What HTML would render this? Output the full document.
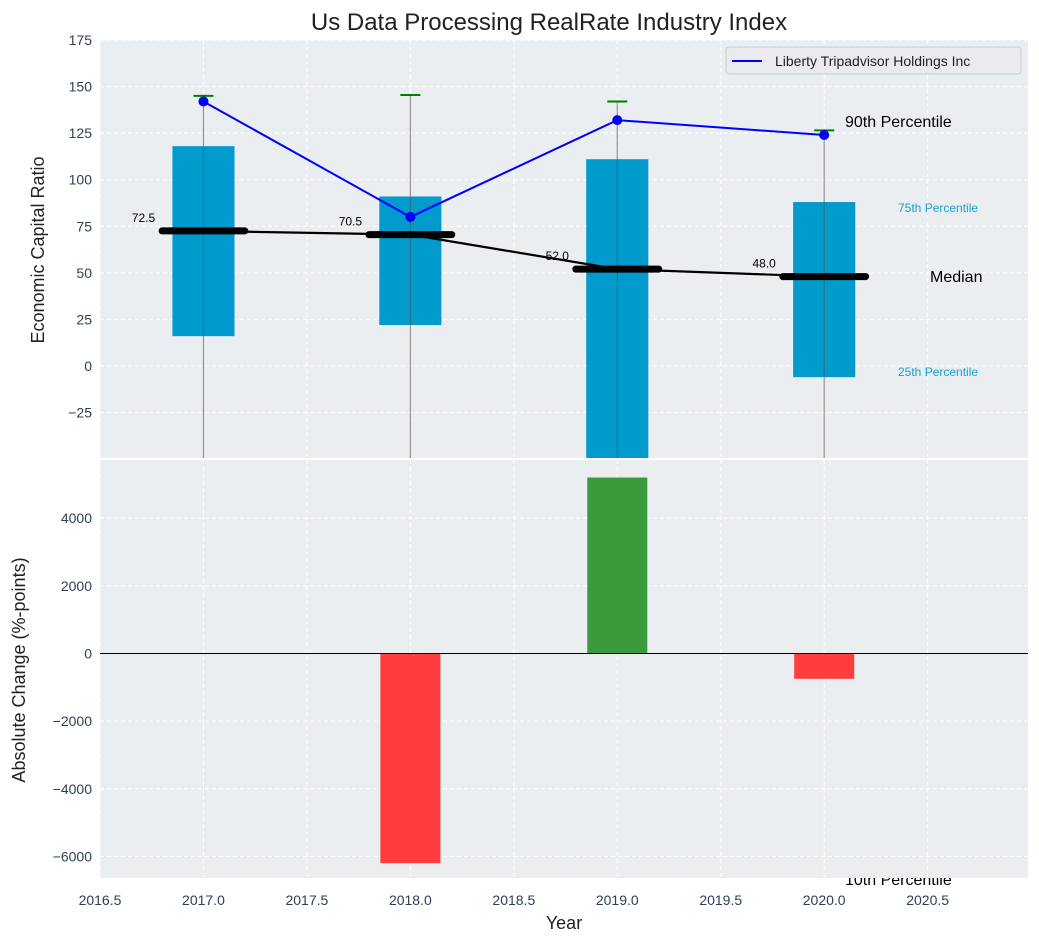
<!DOCTYPE html>
<html><head><meta charset="utf-8"><style>
body{margin:0;background:#fff}
svg{display:block;font-family:"Liberation Sans","DejaVu Sans",sans-serif}
</style></head><body>
<svg id="chart" width="1039" height="942" viewBox="0 0 1039 942">
<text x="549" y="30" font-size="24" text-anchor="middle" fill="#222">Us Data Processing RealRate Industry Index</text>
<text x="845" y="885" font-size="16" fill="#000">10th Percentile</text>
<g id="topPanel"></g>
<g id="botPanel"></g>
</svg>
<script>
const years=[2017,2018,2019,2020];
const p25=[16,22,-50,-6];
const p75=[118,91,111,88];
const p90=[145,145.5,142,126.5];
const medians=[72.5,70.5,52.0,48.0];
const company=[142,80,132,124];
const changes=[0,-6200,5200,-750];
const xTicks=[2016.5,2017,2017.5,2018,2018.5,2019,2019.5,2020,2020.5];
const topTicks=[-25,0,25,50,75,100,125,150,175];
const botTicks=[-6000,-4000,-2000,0,2000,4000];

(function(){
const NS="http://www.w3.org/2000/svg";
const L=100,R=1028;
const X=v=>L+(v-2016.5)*(R-L)/(2020.985-2016.5);
const T0=40,T1=458,Y1=v=>T1-(v+49.4)*(T1-T0)/(175+49.4);
const B0=460,B1=878,Y2=v=>B1-(v+6637)*(B1-B0)/(5718+6637);
function el(p,t,a,txt){const e=document.createElementNS(NS,t);for(const k in a)e.setAttribute(k,a[k]);if(txt!==undefined)e.textContent=txt;p.appendChild(e);return e;}
const gTop=document.getElementById('topPanel'),gBot=document.getElementById('botPanel');

function panel(g,y0,y1,ticks,Y,fmt){
  const bg=el(g,'rect',{x:L,y:y0,width:R-L,height:y1-y0,fill:'#eaeef0'});
  
  
  xTicks.forEach(t=>{const l=el(g,'line',{x1:X(t),x2:X(t),y1:y0,y2:y1,stroke:'#fff','stroke-dasharray':'4 3','stroke-width':1});
    });
  ticks.forEach(t=>{const y=Y(t);
    const l=el(g,'line',{x1:L,x2:R,y1:y,y2:y,stroke:'#fff','stroke-dasharray':'4 3','stroke-width':1});
    
    const tx=el(g,'text',{x:L-8,y:y+5,'font-size':14,fill:'#2e4057','text-anchor':'end'},fmt(t));
    });
}
const fmt=t=>t<0?'\u2212'+(-t):''+t;
panel(gTop,T0,T1,topTicks,Y1,fmt);
panel(gBot,B0,B1,botTicks,Y2,fmt);

const cp=el(gTop,'clipPath',{id:'cpt'});el(cp,'rect',{x:L,y:T0,width:R-L,height:T1-T0});
const gt=el(gTop,'g',{'clip-path':'url(#cpt)'});
years.forEach((yr,i)=>{
  const x=X(yr),w=0.3*207;
  const b=el(gt,'rect',{x:x-w/2,y:Y1(p75[i]),width:w,height:Y1(p25[i])-Y1(p75[i]),fill:'#009acd'});
  
  const wh=el(gt,'line',{x1:x,x2:x,y1:T1,y2:Y1(p90[i]),stroke:'#555','stroke-opacity':0.6,'stroke-width':1.2});
  
  const c=el(gt,'line',{x1:x-10,x2:x+10,y1:Y1(p90[i]),y2:Y1(p90[i]),stroke:'green','stroke-width':2});
  
});
const mp=el(gt,'polyline',{points:years.map((y,i)=>X(y)+','+Y1(medians[i])).join(' '),fill:'none',stroke:'#000','stroke-width':2.2});

years.forEach((yr,i)=>{
  const x=X(yr),y=Y1(medians[i]);
  const m=el(gt,'line',{x1:x-0.2*207,x2:x+0.2*207,y1:y,y2:y,stroke:'#000','stroke-width':7,'stroke-linecap':'round'});
  
  const t=el(gt,'text',{x:x-60,y:y-9,'font-size':12,fill:'#000','text-anchor':'middle'},medians[i].toFixed(1));
  
});
const cl=el(gt,'polyline',{points:years.map((y,i)=>X(y)+','+Y1(company[i])).join(' '),fill:'none',stroke:'blue','stroke-width':2});

years.forEach((yr,i)=>{const d=el(gt,'circle',{cx:X(yr),cy:Y1(company[i]),r:5,fill:'blue'});
  });
[['90th Percentile',845,127,16,'#000','label-90th-percentile'],['75th Percentile',898,212,12,'#1a9fd0','label-75th-percentile'],['Median',930,282,16,'#000','label-median'],['25th Percentile',898,376,12,'#1a9fd0','label-25th-percentile']].forEach(a=>{
  const t=el(gTop,'text',{x:a[1],y:a[2],'font-size':a[3],fill:a[4]},a[0]);
  });
const lg=el(gTop,'g',{});

el(lg,'rect',{x:726,y:47,width:295,height:27,rx:3,fill:'#eaeaf0',stroke:'#ccc'});
el(lg,'line',{x1:732,x2:762,y1:61,y2:61,stroke:'blue','stroke-width':2});
el(lg,'text',{x:775,y:66,'font-size':14,fill:'#222'},'Liberty Tripadvisor Holdings Inc');

changes.forEach((v,i)=>{const x=X(years[i]),w=0.29*207;
  const y=Math.min(Y2(v),Y2(0)),h=Math.abs(Y2(v)-Y2(0));
  const b=el(gBot,'rect',{x:x-w/2,y:y,width:w,height:h,fill:v>=0?'#3a9a3c':'#ff3d3d'});
  });
const z=el(gBot,'line',{x1:L,x2:R,y1:Y2(0),y2:Y2(0),stroke:'#000','stroke-width':1});

xTicks.forEach(t=>{const tx=el(gBot,'text',{x:X(t),y:905,'font-size':14,fill:'#2e4057','text-anchor':'middle'},t.toFixed(1));
  });
const xl=el(gBot,'text',{x:564,y:929,'font-size':18,fill:'#222','text-anchor':'middle'},'Year');

const y1t=el(gTop,'text',{x:0,y:0,'font-size':18,fill:'#222','text-anchor':'middle',transform:'translate(44,250) rotate(-90)'},'Economic Capital Ratio');

const y2t=el(gBot,'text',{x:0,y:0,'font-size':18,fill:'#222','text-anchor':'middle',transform:'translate(25,670) rotate(-90)'},'Absolute Change (%-points)');

})();
</script>
</body></html>
